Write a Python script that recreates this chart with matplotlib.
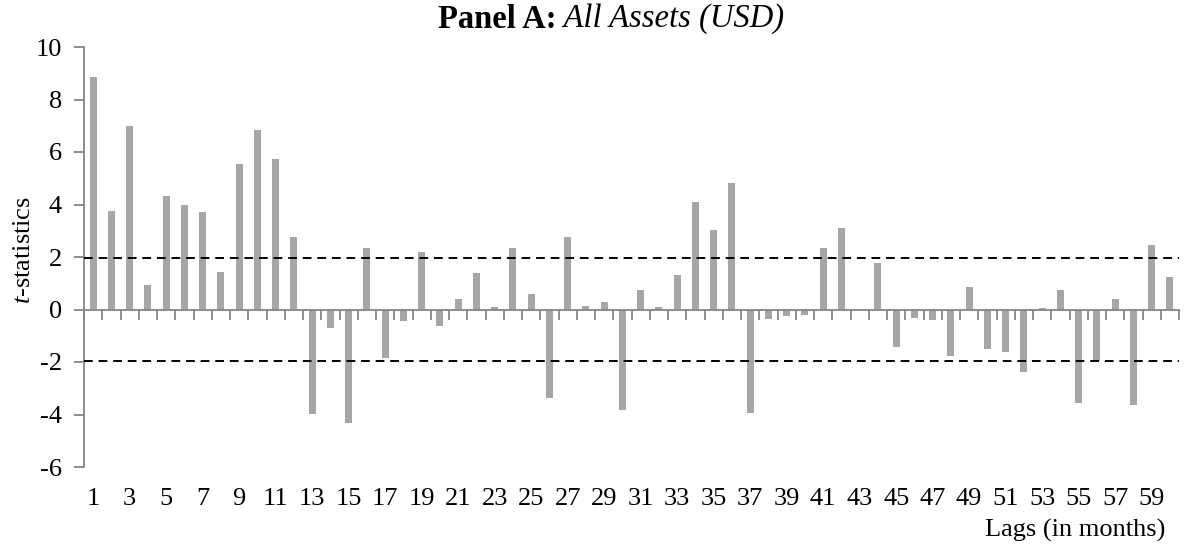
import matplotlib
matplotlib.use("Agg")
import matplotlib.pyplot as plt
import matplotlib.transforms as mtransforms
import numpy as np

# t-statistics by lag (months 1..60)
lags = list(range(1, 61))
t_stats = [
    8.85, 3.75, 7.00, 0.94, 4.34, 3.97, 3.72, 1.43, 5.56, 6.84,
    5.75, 2.75, -3.99, -0.72, -4.33, 2.36, -1.84, -0.45, 2.19, -0.63,
    0.39, 1.40, 0.08, 2.36, 0.58, -3.37, 2.78, 0.12, 0.28, -3.83,
    0.75, 0.08, 1.31, 4.11, 3.03, 4.81, -3.95, -0.38, -0.25, -0.20,
    2.33, 3.10, -0.03, 1.76, -1.42, -0.34, -0.39, -1.77, 0.87, -1.52,
    -1.62, -2.38, 0.05, 0.74, -3.55, -1.97, 0.41, -3.64, 2.44, 1.22,
]
crit_upper = 1.96
crit_lower = -1.96
y_ticks = [-6, -4, -2, 0, 2, 4, 6, 8, 10]
x_tick_labels = [str(n) for n in range(1, 61, 2)]

plt.rcParams["font.family"] = ["Liberation Serif", "DejaVu Serif"]
plt.rcParams["mathtext.fontset"] = "custom"
plt.rcParams["mathtext.rm"] = "Liberation Serif"
plt.rcParams["mathtext.it"] = "Liberation Serif:italic"
plt.rcParams["mathtext.bf"] = "Liberation Serif:bold"

axis_grey = "#868686"
bar_grey = "#A6A6A6"
fs = 19

W, H = 1187, 546
fig = plt.figure(figsize=(W / 100, H / 100), dpi=100)
ax = fig.add_axes([84 / W, 1 - 467 / H, (1179 - 84) / W, (467 - 47) / H])

ax.bar(lags, t_stats, width=0.39, color=bar_grey, zorder=2)
ax.axhline(crit_upper, color="black", lw=1.4, ls=(0, (4.5, 3.0)), zorder=3)
ax.axhline(crit_lower, color="black", lw=1.4, ls=(0, (4.5, 3.0)), zorder=3)

ax.set_xlim(0.5, 60.5)
ax.set_ylim(-6, 10)

# spines: y axis on the left, category axis crossing at zero
for s in ("top", "right"):
    ax.spines[s].set_visible(False)
ax.spines["left"].set_color(axis_grey)
ax.spines["left"].set_linewidth(1.3)
ax.spines["bottom"].set_position(("data", 0))
ax.spines["bottom"].set_color(axis_grey)
ax.spines["bottom"].set_linewidth(1.3)
ax.spines["bottom"].set_zorder(4)

ax.set_yticks(y_ticks)
ax.set_yticklabels([str(v) for v in y_ticks])
ax.tick_params(axis="y", direction="out", length=7, width=1.3, color=axis_grey,
               labelsize=fs, pad=9)

# ticks at category boundaries, labels placed below the plot area
ax.set_xticks(np.arange(0.5, 61, 1.0))
ax.set_xticklabels([])
ax.tick_params(axis="x", direction="out", length=7, width=1.3, color=axis_grey)

trans = mtransforms.blended_transform_factory(ax.transData, fig.transFigure)
for lab in x_tick_labels:
    ax.text(int(lab), 1 - 499 / H, lab, transform=trans, ha="center", va="center",
            fontsize=fs, clip_on=False)

fig.text(1165 / W, 1 - 530 / H, "Lags (in months)", ha="right", va="center",
         fontsize=fs)
fig.text(24 / W, 1 - 250 / H, r"$\it{t}$-statistics", rotation=90,
         ha="center", va="center", fontsize=fs)

# title: bold prefix followed by italic remainder, centred as one line
title_fs = 23.5
renderer = fig.canvas.get_renderer()
t_bold = fig.text(0, 1 - 19 / H, "Panel A:", fontsize=title_fs, fontweight="bold",
                  ha="left", va="center")
t_ital = fig.text(0, 1 - 19 / H, " All Assets (USD)", fontsize=title_fs,
                  fontstyle="italic", ha="left", va="center")
w_bold = t_bold.get_window_extent(renderer).width
w_ital = t_ital.get_window_extent(renderer).width
x0 = 611 - (w_bold + w_ital) / 2
t_bold.set_x(x0 / W)
t_ital.set_x((x0 + w_bold) / W)

fig.savefig("out.png", dpi=100)
